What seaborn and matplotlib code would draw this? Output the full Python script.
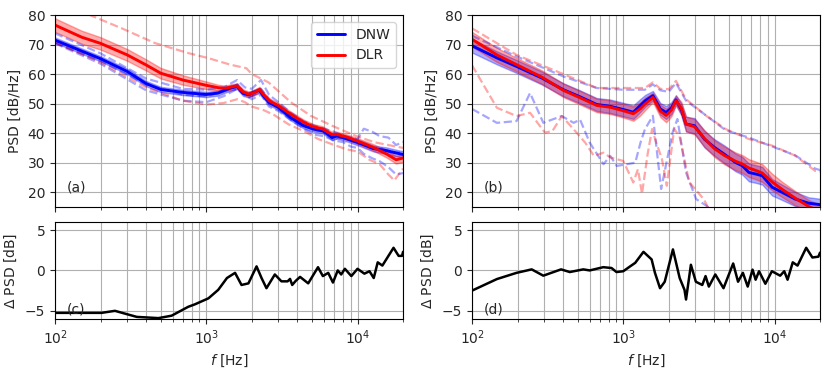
import numpy as np
import pandas as pd
import matplotlib
matplotlib.use("Agg")
import matplotlib.pyplot as plt
import seaborn as sns

sns.set_style("ticks")
plt.rcParams['font.family'] = ['DejaVu Sans']
plt.rcParams['font.size'] = 10

# ---------------- panel (a) ----------------
f_a = [100, 150, 200, 300, 400, 500, 700, 1000, 1200, 1330, 1450, 1600, 1750, 1900, 2050,
       2250, 2400, 2600, 3000, 3600, 4400, 5100, 5900, 6800, 7300, 8600, 10500, 12700,
       15500, 18000, 20000]
dnw_a = [71.5, 67.8, 65.2, 60.9, 56.8, 54.8, 53.8, 53.1, 53.6, 54.6, 55.3, 55.8, 53.5, 53.0,
         53.8, 54.5, 52.5, 50.4, 48.7, 45.3, 42.5, 41.4, 40.8, 38.5, 39.1, 38.0, 36.5, 34.8,
         34.1, 33.3, 32.8]
dlr_a = [76.6, 72.5, 70.4, 66.5, 63.1, 60.3, 58.0, 56.2, 55.4, 55.2, 55.6, 56.0, 54.0, 53.2,
         53.6, 54.8, 53.0, 51.0, 49.3, 46.5, 43.7, 42.2, 41.4, 39.5, 39.6, 38.6, 36.9, 35.2,
         33.0, 31.0, 31.6]
dnw_a_sd = [0.9] * 26 + [1.0, 1.0, 1.1, 1.1, 1.1]
dlr_a_sd = [2.3, 2.2, 2.1, 2.0, 1.9, 1.8, 1.6, 1.3, 1.0] + [0.9] * 17 + [1.0, 1.1, 1.2, 1.3, 1.3]

f_a_run = [100, 200, 400, 700, 1000, 1300, 1600, 1800, 2000, 2300, 2600, 3000, 3600, 4400,
           5200, 6000, 7000, 8000, 9000, 10000, 11000, 12500, 14000, 16000, 18000, 20000]
dnw_a_run1 = [73.8, 67.0, 58.5, 55.0, 54.7, 55.5, 58.0, 55.5, 55.0, 58.0, 53.0, 50.5, 47.0,
              44.0, 42.5, 41.5, 40.5, 39.0, 38.5, 38.0, 41.5, 40.5, 39.0, 38.5, 36.0, 37.0]
dnw_a_run2 = [70.4, 63.5, 54.5, 51.0, 50.5, 52.5, 55.0, 53.0, 51.5, 53.0, 49.0, 47.5, 44.5,
              41.5, 39.5, 39.0, 37.5, 37.0, 35.5, 35.0, 33.0, 31.5, 30.5, 28.5, 26.0, 26.5]
dnw_a_run3 = [70.6, 64.5, 56.5, 53.0, 52.5, 54.0, 56.5, 53.5, 52.5, 55.0, 51.5, 49.0, 46.0,
              43.0, 41.0, 40.5, 38.0, 38.5, 37.5, 36.5, 36.0, 35.0, 35.0, 34.0, 33.5, 33.5]
f_a_dlr1 = [100, 170, 276, 458, 762, 1034, 1440, 1840, 2000, 2580, 3640, 4900, 6800, 9700,
            13000, 20000]
dlr_a_run1 = [84.0, 80.0, 75.5, 70.5, 67.1, 65.4, 63.2, 62.0, 60.0, 57.2, 50.4, 45.9, 42.5,
              39.1, 36.9, 35.0]
f_a_dlr2 = [100, 200, 400, 700, 1000, 1300, 1600, 1800, 2000, 2370, 2800, 3500, 4500, 5500,
            7000, 8500, 10000, 12000, 14000, 16000, 17500, 20000]
dlr_a_run2 = [70.7, 64.0, 55.5, 51.0, 49.7, 50.2, 51.5, 50.5, 49.0, 47.9, 46.2, 43.0, 40.5,
              38.0, 36.0, 34.5, 33.8, 31.0, 29.5, 26.0, 24.0, 28.0]

# ---------------- panel (b) ----------------
f_b = [100, 146, 197, 289, 402, 518, 668, 819, 1000, 1165, 1291, 1400, 1570, 1760, 1920,
       2080, 2230, 2420, 2600, 2960, 3440, 4000, 4650, 5520, 6120, 6770, 7500, 8300, 9640,
       11200, 13700, 16800, 20000]
dnw_b = [69.6, 65.5, 62.6, 58.7, 54.7, 52.3, 49.7, 49.1, 48.0, 47.1, 49.3, 51.0, 52.7, 48.2,
         47.0, 48.5, 51.3, 48.0, 43.1, 42.5, 38.0, 35.2, 32.9, 30.1, 29.0, 26.7, 26.2, 25.6,
         21.7, 20.0, 17.7, 16.3, 15.8]
dlr_b = [71.8, 66.5, 63.2, 59.0, 54.5, 52.0, 49.4, 48.8, 47.6, 46.6, 48.2, 50.0, 52.1, 47.5,
         46.0, 47.8, 51.0, 48.5, 43.1, 42.2, 38.2, 34.8, 32.5, 30.5, 29.6, 28.2, 27.4, 26.5,
         23.5, 21.0, 18.0, 15.2, 13.5]
dnw_b_sd = [2.3, 2.2, 2.2, 2.2, 2.2, 2.2, 2.2, 2.3, 2.3, 2.3, 2.2, 2.0, 1.6, 2.0, 2.2, 2.0,
            1.6, 2.0, 2.5, 2.6, 2.8, 2.8, 3.0, 3.0, 3.0, 3.0, 3.0, 3.0, 2.8, 2.6, 2.4, 2.0, 2.0]
dlr_b_sd = [2.5, 2.4, 2.3, 2.3, 2.3, 2.3, 2.3, 2.3, 2.3, 2.4, 2.3, 2.1, 1.6, 2.1, 2.3, 2.1,
            1.6, 2.1, 2.5, 2.6, 2.8, 2.8, 3.0, 3.0, 3.0, 3.0, 3.0, 3.0, 2.8, 2.6, 2.4, 2.2, 2.2]

f_b_up = [100, 197, 402, 668, 1000, 1390, 1570, 1760, 2000, 2230, 2600, 3530, 4750, 6770,
          9640, 13700, 18600, 20000]
dnw_b_up = [73.0, 66.0, 59.2, 55.3, 54.7, 54.7, 56.5, 54.5, 54.0, 57.0, 51.0, 46.0, 41.0,
            38.5, 35.5, 32.5, 28.0, 27.5]
dlr_b_up = [75.5, 66.5, 60.0, 55.3, 55.3, 55.3, 57.2, 55.0, 54.9, 57.7, 51.5, 45.9, 41.4,
            38.0, 35.8, 32.4, 27.2, 27.0]
f_b_dnw_lo = [100, 146, 197, 242, 296, 392, 470, 518, 600, 740, 820, 905, 1060, 1200, 1300,
              1390, 1570, 1780, 2120, 2280, 2600, 3030, 3530, 4000]
dnw_b_lo = [48.2, 43.5, 44.1, 53.6, 43.5, 45.8, 43.5, 44.6, 36.8, 29.5, 32.3, 28.9, 29.5,
            30.0, 36.8, 41.3, 45.9, 21.1, 40.3, 44.8, 26.7, 17.7, 15.5, 13.0]
f_b_dlr_lo = [100, 146, 197, 242, 303, 340, 392, 470, 560, 640, 740, 820, 1000, 1165, 1250,
              1330, 1450, 1550, 1650, 1800, 1940, 2170, 2350, 2730, 3400, 3800]
dlr_b_lo = [63.0, 48.6, 45.8, 46.9, 40.2, 40.7, 45.8, 41.3, 36.8, 32.3, 33.4, 31.8, 30.6,
            23.3, 27.8, 19.5, 33.0, 41.4, 36.9, 31.3, 22.2, 41.4, 39.1, 23.4, 17.7, 13.0]

# ---------------- delta panels ----------------
f_c = [100, 203, 249, 347, 483, 590, 760, 840, 1034, 1200, 1370, 1550, 1710, 1900, 2150,
       2320, 2500, 2840, 3140, 3450, 3580, 3700, 3900, 4170, 4720, 5480, 5900, 6400, 6880,
       7400, 7800, 8250, 9100, 10000, 11100, 12000, 12800, 13600, 14600, 17300, 18700,
       19700, 20000]
delta_c = [-5.25, -5.25, -5.0, -5.75, -5.9, -5.6, -4.5, -4.2, -3.45, -2.4, -0.94, -0.3, -1.8,
           -1.6, 0.5, -0.94, -2.2, -0.5, -1.35, -1.35, -1.05, -1.8, -1.3, -0.8, -1.6, 0.4,
           -0.7, -0.3, -1.5, 0.0, -0.5, 0.2, -0.7, 0.2, -0.4, -0.1, -0.94, 1.0, 0.6, 2.8,
           1.8, 1.8, 2.3]
f_d = [100, 146, 197, 248, 296, 388, 443, 544, 600, 737, 836, 902, 1000, 1110, 1200, 1360,
       1540, 1620, 1750, 1880, 2130, 2360, 2540, 2600, 2800, 3020, 3330, 3500, 3680, 4060,
       4600, 5330, 5740, 6180, 6650, 7160, 7500, 7900, 8700, 9610, 10900, 11600, 12200,
       13200, 14200, 16200, 17800, 19500, 20000]
delta_d = [-2.5, -1.07, -0.3, 0.13, -0.65, 0.13, -0.2, 0.13, 0.0, 0.4, 0.3, -0.2, -0.1, 0.5,
           0.94, 2.3, 1.36, -0.3, -2.2, -1.4, 2.6, -0.94, -2.4, -3.6, 0.7, -1.4, -1.8, -0.7,
           -2.0, -0.5, -2.2, 0.86, -1.4, -0.3, -2.0, 0.1, -1.15, -0.1, -1.65, -0.1, -0.65,
           -0.1, -1.15, 1.0, 0.6, 2.8, 1.6, 1.7, 2.2]

BLUE, RED = '#0000ff', '#ff0000'

fig = plt.figure(figsize=(8.3, 3.73), dpi=100)
ax_a = fig.add_axes([0.0663, 0.445, 0.4193, 0.5147])
ax_c = fig.add_axes([0.0663, 0.145, 0.4193, 0.260])
ax_b = fig.add_axes([0.5687, 0.445, 0.4193, 0.5147])
ax_d = fig.add_axes([0.5687, 0.145, 0.4193, 0.260])


def runs(ax, f, y, color):
    sns.lineplot(x=f, y=y, ax=ax, color=color, lw=1.6, ls='--', alpha=0.35, sort=False)


def mean_band(ax, f, y, sd, color, label):
    f = np.asarray(f); y = np.asarray(y); sd = np.asarray(sd)
    ax.fill_between(f, y - sd, y + sd, color=color, alpha=0.32, lw=1)
    sns.lineplot(x=f, y=y, ax=ax, color=color, lw=2.1, label=label, sort=False)


# (a)
runs(ax_a, f_a_run, dnw_a_run1, BLUE)
runs(ax_a, f_a_run, dnw_a_run2, BLUE)
runs(ax_a, f_a_run, dnw_a_run3, BLUE)
runs(ax_a, f_a_dlr1, dlr_a_run1, RED)
runs(ax_a, f_a_dlr2, dlr_a_run2, RED)
mean_band(ax_a, f_a, dnw_a, dnw_a_sd, BLUE, 'DNW')
mean_band(ax_a, f_a, dlr_a, dlr_a_sd, RED, 'DLR')

# (b)
runs(ax_b, f_b_up, dnw_b_up, BLUE)
runs(ax_b, f_b_dnw_lo, dnw_b_lo, BLUE)
runs(ax_b, f_b_up, dlr_b_up, RED)
runs(ax_b, f_b_dlr_lo, dlr_b_lo, RED)
mean_band(ax_b, f_b, dnw_b, dnw_b_sd, BLUE, None)
mean_band(ax_b, f_b, dlr_b, dlr_b_sd, RED, None)

# deltas
sns.lineplot(x=f_c, y=delta_c, ax=ax_c, color='k', lw=1.8, sort=False)
sns.lineplot(x=f_d, y=delta_d, ax=ax_d, color='k', lw=1.8, sort=False)

for ax in (ax_a, ax_b):
    ax.set_xscale('log')
    ax.set_xlim(100, 20000)
    ax.set_ylim(15, 80)
    ax.set_yticks([20, 30, 40, 50, 60, 70, 80])
    ax.set_ylabel('PSD [dB/Hz]')
    ax.tick_params(axis='x', labelbottom=False)
    ax.set_xlabel('')
for ax in (ax_c, ax_d):
    ax.set_xscale('log')
    ax.set_xlim(100, 20000)
    ax.set_ylim(-6, 6)
    ax.set_yticks([-5, 0, 5])
    ax.set_ylabel(r'$\Delta$ PSD [dB]')
    ax.set_xlabel(r'$f$ [Hz]')
for ax in (ax_a, ax_b, ax_c, ax_d):
    ax.grid(True, which='both', color='#b0b0b0', lw=0.8)
    ax.set_axisbelow(True)
    for s in ax.spines.values():
        s.set_color('k')
        s.set_linewidth(0.8)

leg = ax_a.legend(loc='upper right', fontsize=10)
if ax_b.get_legend():
    ax_b.get_legend().remove()

ax_a.text(0.035, 0.08, '(a)', transform=ax_a.transAxes)
ax_b.text(0.035, 0.08, '(b)', transform=ax_b.transAxes)
ax_c.text(0.035, 0.06, '(c)', transform=ax_c.transAxes)
ax_d.text(0.035, 0.06, '(d)', transform=ax_d.transAxes)

fig.savefig('out.png', dpi=100)
